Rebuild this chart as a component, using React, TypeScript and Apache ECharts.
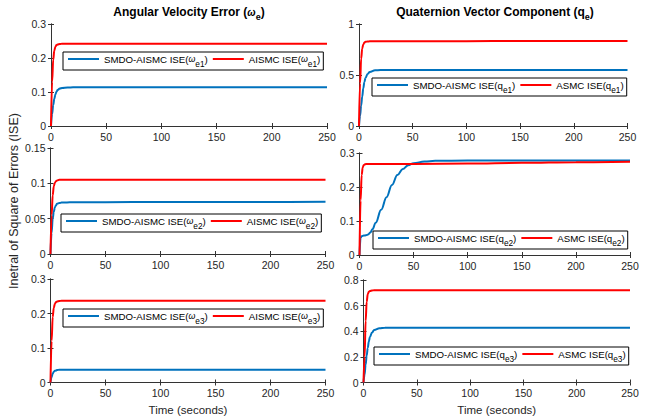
import React, { useEffect, useRef } from "react";
import * as echarts from "echarts";

// ---------- data ----------
const X_MAX = 250;
const X_INTERVAL = 50;

// subplot y-axis settings (TL, TR, ML, MR, BL, BR)
const Y_MAX = [0.3, 1, 0.15, 0.3, 0.3, 0.8];
const Y_INTERVAL = [0.1, 0.5, 0.05, 0.1, 0.1, 0.2];

const T_FAST = [0, 1, 2, 3, 4, 5, 6, 8, 10, 15, 20, 50, 100, 150, 200, 250];

// Angular velocity error, axis 1
const W1_SMDO = [0, 0.035, 0.062, 0.08, 0.093, 0.101, 0.106, 0.11, 0.112, 0.113, 0.114, 0.114, 0.114, 0.114, 0.114, 0.114];
const W1_AISMC = [0, 0.13, 0.195, 0.222, 0.233, 0.238, 0.24, 0.241, 0.242, 0.242, 0.242, 0.242, 0.242, 0.242, 0.242, 0.242];
// Quaternion, component 1
const Q1_SMDO = [0, 0.1, 0.2, 0.29, 0.37, 0.43, 0.47, 0.51, 0.53, 0.546, 0.549, 0.549, 0.549, 0.549, 0.549, 0.549];
const Q1_ASMC = [0, 0.42, 0.66, 0.76, 0.8, 0.818, 0.825, 0.829, 0.83, 0.831, 0.831, 0.831, 0.832, 0.833, 0.833, 0.834];
// Angular velocity error, axis 2
const W2_SMDO = [0, 0.03, 0.05, 0.06, 0.066, 0.069, 0.071, 0.072, 0.0728, 0.073, 0.0732, 0.0734, 0.0735, 0.0736, 0.0737, 0.0738];
const W2_AISMC = [0, 0.055, 0.083, 0.096, 0.101, 0.103, 0.104, 0.105, 0.105, 0.105, 0.105, 0.105, 0.105, 0.105, 0.105, 0.105];
// Quaternion, component 2 (slow)
const T_Q2_SMDO = [0, 1, 2, 4, 6, 8, 10, 12, 15, 20, 25, 30, 35, 40, 45, 50, 60, 70, 100, 150, 200, 250];
const Q2_SMDO = [0, 0.05, 0.055, 0.057, 0.058, 0.06, 0.066, 0.076, 0.095, 0.133, 0.17, 0.206, 0.235, 0.253, 0.264, 0.27, 0.275, 0.277, 0.278, 0.278, 0.278, 0.278];
const T_Q2_ASMC = [0, 1, 2, 3, 4, 6, 10, 50, 100, 150, 200, 250];
const Q2_ASMC = [0, 0.16, 0.235, 0.258, 0.265, 0.268, 0.268, 0.268, 0.269, 0.271, 0.273, 0.274];
// Angular velocity error, axis 3
const W3_SMDO = [0, 0.016, 0.026, 0.031, 0.034, 0.035, 0.036, 0.037, 0.037, 0.037, 0.037, 0.037, 0.037, 0.037, 0.037, 0.037];
const W3_AISMC = [0, 0.12, 0.19, 0.217, 0.228, 0.233, 0.235, 0.236, 0.237, 0.237, 0.237, 0.237, 0.237, 0.237, 0.237, 0.237];
// Quaternion, component 3
const Q3_SMDO = [0, 0.06, 0.14, 0.21, 0.27, 0.32, 0.355, 0.39, 0.41, 0.423, 0.427, 0.428, 0.428, 0.428, 0.428, 0.428];
const Q3_ASMC = [0, 0.2, 0.48, 0.63, 0.69, 0.708, 0.714, 0.718, 0.72, 0.72, 0.72, 0.72, 0.72, 0.72, 0.72, 0.72];

const BLUE_NAMES = ["SMDO-AISMC ISE(we1)", "SMDO-AISMC ISE(qe1)", "SMDO-AISMC ISE(we2)", "SMDO-AISMC ISE(qe2)", "SMDO-AISMC ISE(we3)", "SMDO-AISMC ISE(qe3)"];
const RED_NAMES = ["AISMC ISE(we1)", "ASMC ISE(qe1)", "AISMC ISE(we2)", "ASMC ISE(qe2)", "AISMC ISE(we3)", "ASMC ISE(qe3)"];

const BLUE_T = [T_FAST, T_FAST, T_FAST, T_Q2_SMDO, T_FAST, T_FAST];
const BLUE_Y = [W1_SMDO, Q1_SMDO, W2_SMDO, Q2_SMDO, W3_SMDO, Q3_SMDO];
const RED_T = [T_FAST, T_FAST, T_FAST, T_Q2_ASMC, T_FAST, T_FAST];
const RED_Y = [W1_AISMC, Q1_ASMC, W2_AISMC, Q2_ASMC, W3_AISMC, Q3_ASMC];

const TITLE_LEFT = "Angular Velocity Error (";
const TITLE_RIGHT = "Quaternion Vector Component (q";
const Y_LABEL = "Inetral of Square of Errors (ISE)";
const X_LABEL = "Time (seconds)";

// ---------- layout ----------
const GRIDS = [
  { left: 51, top: 24, width: 276, height: 102 },
  { left: 359, top: 24, width: 268.5, height: 102 },
  { left: 50.5, top: 148, width: 275, height: 106 },
  { left: 359.5, top: 153, width: 270.5, height: 102 },
  { left: 50.5, top: 279, width: 275, height: 103.5 },
  { left: 363.5, top: 280, width: 266.5, height: 102.5 },
];
const LEGEND_POS = [
  { left: 63, top: 52 },
  { left: 372, top: 78 },
  { left: 61, top: 214 },
  { left: 373, top: 231 },
  { left: 63, top: 309 },
  { left: 374, top: 347 },
];

const FONT = "'Liberation Sans', Arial, Helvetica, sans-serif";
const AXIS_COLOR = "#333333";
const TEXT_COLOR = "#262626";
const BLUE = "#0072BD";
const RED = "#FF0000";

const legendRich = {
  n: { fontSize: 9.7, fontFamily: FONT, color: "#000", lineHeight: 18 },
  w: { fontSize: 8.8, fontFamily: FONT, fontStyle: "italic", color: "#000", lineHeight: 18 },
  s: { fontSize: 8.3, fontFamily: FONT, color: "#000", lineHeight: 9, verticalAlign: "bottom" },
};

function richName(name: string): string {
  const m = name.match(/^(.*ISE\()([wq])(e\d)\)$/);
  if (!m) return name;
  const sym = m[2] === "w" ? "{w|ω}" : "{n|q}";
  return `{n|${m[1]}}${sym}{s|${m[3]}}{n|)}`;
}

function buildOption() {
  const grid = GRIDS.map((g) => ({ ...g, containLabel: false }));
  const xAxis: any[] = [];
  const yAxis: any[] = [];
  for (let i = 0; i < 6; i++) {
    xAxis.push({
      type: "value",
      gridIndex: i,
      min: 0,
      max: X_MAX,
      interval: X_INTERVAL,
      position: "bottom",
      axisLine: { show: true, lineStyle: { color: AXIS_COLOR, width: 1 } },
      axisTick: { show: true, inside: true, length: 3, lineStyle: { color: AXIS_COLOR } },
      axisLabel: { color: TEXT_COLOR, fontSize: 10.5, fontFamily: FONT, margin: 5 },
      splitLine: { show: false },
      name: i >= 4 ? X_LABEL : "",
      nameLocation: "middle",
      nameGap: 21,
      nameTextStyle: { color: TEXT_COLOR, fontSize: 11.5, fontFamily: FONT },
    });
    yAxis.push({
      type: "value",
      gridIndex: i,
      min: 0,
      max: Y_MAX[i],
      interval: Y_INTERVAL[i],
      position: "left",
      axisLine: { show: true, lineStyle: { color: AXIS_COLOR, width: 1 } },
      axisTick: { show: true, inside: true, length: 3, lineStyle: { color: AXIS_COLOR } },
      axisLabel: { color: TEXT_COLOR, fontSize: 10.5, fontFamily: FONT, margin: 5 },
      splitLine: { show: false },
      name: i === 2 ? Y_LABEL : "",
      nameLocation: "middle",
      nameGap: 30,
      nameTextStyle: { color: TEXT_COLOR, fontSize: 12.5, fontFamily: FONT },
    });
  }
  for (let i = 0; i < 6; i++) {
    xAxis.push({
      type: "value",
      gridIndex: i,
      min: 0,
      max: X_MAX,
      interval: X_INTERVAL,
      position: "top",
      axisLine: { show: true, lineStyle: { color: AXIS_COLOR, width: 1 } },
      axisTick: { show: true, inside: true, length: 3, lineStyle: { color: AXIS_COLOR } },
      axisLabel: { show: false },
      splitLine: { show: false },
    });
    yAxis.push({
      type: "value",
      gridIndex: i,
      min: 0,
      max: Y_MAX[i],
      interval: Y_INTERVAL[i],
      position: "right",
      axisLine: { show: true, lineStyle: { color: AXIS_COLOR, width: 1 } },
      axisTick: { show: true, inside: true, length: 3, lineStyle: { color: AXIS_COLOR } },
      axisLabel: { show: false },
      splitLine: { show: false },
    });
  }

  const series: any[] = [];
  for (let i = 0; i < 6; i++) {
    series.push({
      type: "line",
      name: BLUE_NAMES[i],
      xAxisIndex: i,
      yAxisIndex: i,
      data: BLUE_T[i].map((t, k) => [t, BLUE_Y[i][k]]),
      showSymbol: false,
      symbol: "none",
      smooth: 0.4,
      smoothMonotone: "x",
      lineStyle: { color: BLUE, width: 2 },
      itemStyle: { color: BLUE },
    });
    series.push({
      type: "line",
      name: RED_NAMES[i],
      xAxisIndex: i,
      yAxisIndex: i,
      data: RED_T[i].map((t, k) => [t, RED_Y[i][k]]),
      showSymbol: false,
      symbol: "none",
      smooth: 0.4,
      smoothMonotone: "x",
      lineStyle: { color: RED, width: 2 },
      itemStyle: { color: RED },
    });
  }

  const legend = LEGEND_POS.map((p, i) => ({
    left: p.left,
    top: p.top,
    orient: "horizontal",
    data: [BLUE_NAMES[i], RED_NAMES[i]],
    icon: "rect",
    itemWidth: 31,
    itemHeight: 2,
    itemGap: 5,
    padding: [2, 3, 2, 5],
    borderColor: "#000",
    borderWidth: 1,
    backgroundColor: "#fff",
    selectedMode: false,
    formatter: (name: string) => richName(name),
    textStyle: { fontSize: 9.7, fontFamily: FONT, color: "#000", rich: legendRich },
  }));

  const titleRich = {
    b: { fontSize: 12, fontWeight: "bold", fontFamily: FONT, color: "#000", lineHeight: 18 },
    w: { fontSize: 10, fontStyle: "italic", fontFamily: FONT, color: "#000", lineHeight: 18 },
    s: { fontSize: 9, fontWeight: "bold", fontFamily: FONT, color: "#000", lineHeight: 9, verticalAlign: "bottom" },
  };

  const title = [
    {
      text: `{b|${TITLE_LEFT}}{w|ω}{s|e}{b|)}`,
      left: 189,
      top: 3,
      textAlign: "center",
      padding: 0,
      textStyle: { rich: titleRich },
    },
    {
      text: `{b|${TITLE_RIGHT}}{s|e}{b|)}`,
      left: 495,
      top: 3,
      textAlign: "center",
      padding: 0,
      textStyle: { rich: titleRich },
    },
  ];

  return {
    animation: false,
    backgroundColor: "#fff",
    title,
    grid,
    xAxis,
    yAxis,
    series,
    legend,
  };
}

export default function App() {
  const ref = useRef<HTMLDivElement>(null);
  useEffect(() => {
    if (!ref.current) return;
    const chart = echarts.init(ref.current, undefined, { renderer: "svg" });
    chart.setOption(buildOption() as any);
    return () => chart.dispose();
  }, []);
  return (
    <div
      ref={ref}
      style={{ position: "fixed", left: 0, top: 0, width: 649, height: 419, background: "#fff" }}
    />
  );
}
